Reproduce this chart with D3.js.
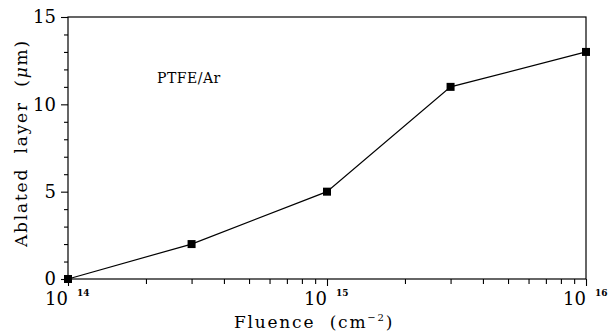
<!DOCTYPE html>
<html>
<head>
<meta charset="utf-8">
<script src="https://cdn.jsdelivr.net/npm/d3@7"></script>
<style>
  html, body { margin: 0; padding: 0; background: #fff; }
  svg { display: block; }
  text { font-family: "DejaVu Serif", "Liberation Serif", serif; fill: #000; white-space: pre; }
</style>
</head>
<body>
<svg id="chart" width="608" height="335"></svg>
<script>
// Data
const fluence = [1e14, 3e14, 1e15, 3e15, 1e16];
const ablated = [0, 2, 5, 11, 13];
const yTicks = [0, 5, 10, 15];
const xMajorTicks = [1e14, 1e15, 1e16];
const xTickExponents = ["14", "15", "16"];
const annotation = "PTFE/Ar";

const W = 608, H = 335;
const margin = { left: 68, right: 22, top: 17, bottom: 56 };
const svg = d3.select("#chart");

const x = d3.scaleLog().domain([1e14, 1e16]).range([margin.left, W - margin.right]);
const y = d3.scaleLinear().domain([0, 15]).range([H - margin.bottom, margin.top]);

// Frame
svg.append("rect")
  .attr("x", x(1e14)).attr("y", y(15))
  .attr("width", x(1e16) - x(1e14)).attr("height", y(0) - y(15))
  .attr("fill", "none").attr("stroke", "#000").attr("stroke-width", 1.2);

// X minor ticks
const xMinor = [];
for (let d = 1e14; d < 1e16; d *= 10) for (let m = 2; m <= 9; m++) xMinor.push(d * m);
const xAxisMinor = d3.axisBottom(x).tickValues(xMinor).tickSize(5).tickFormat("");
const xAxisMajor = d3.axisBottom(x).tickValues(xMajorTicks).tickSize(7).tickFormat("");
[xAxisMinor, xAxisMajor].forEach(ax => {
  const g = svg.append("g").attr("transform", `translate(0,${y(0)})`).call(ax);
  g.select(".domain").remove();
  g.selectAll("line").attr("stroke", "#000").attr("stroke-width", 1.1);
});

// X tick labels: 10^n
const xl = svg.append("g");
xMajorTicks.forEach((v, i) => {
  xl.append("text").attr("x", x(v)).attr("y", 305)
    .attr("text-anchor", "end").attr("font-size", 18).text("10");
  xl.append("text").attr("x", x(v) + 9).attr("y", 296)
    .attr("font-size", 9).attr("font-weight", "bold").text(xTickExponents[i]);
});

// Y ticks
const yMinor = d3.range(0, 16).filter(v => v % 5 !== 0);
const yAxisMinor = d3.axisLeft(y).tickValues(yMinor).tickSize(4).tickFormat("");
const yAxisMajor = d3.axisLeft(y).tickValues(yTicks).tickSize(7).tickFormat(d3.format("d")).tickPadding(5);
[yAxisMinor, yAxisMajor].forEach(ax => {
  const g = svg.append("g").attr("transform", `translate(${x(1e14)},0)`).call(ax);
  g.select(".domain").remove();
  g.selectAll("line").attr("stroke", "#000").attr("stroke-width", 1.1);
  g.selectAll("text").attr("font-size", 18)
    .attr("font-family", '"DejaVu Serif", serif').attr("fill", "#000");
});

// Line
const line = d3.line().x((d, i) => x(fluence[i])).y(d => y(d));
svg.append("path").datum(ablated).attr("d", line)
  .attr("fill", "none").attr("stroke", "#000").attr("stroke-width", 1.2);

// Markers
const s = 8;
svg.append("g").selectAll("rect").data(ablated).join("rect")
  .attr("x", (d, i) => x(fluence[i]) - s / 2).attr("y", d => y(d) - s / 2)
  .attr("width", s).attr("height", s).attr("fill", "#000");

// Annotation
svg.append("text").attr("x", 157).attr("y", 83).attr("font-size", 14)
  .attr("letter-spacing", 0.5).text(annotation);

// X label
const xt = svg.append("text").attr("x", 314).attr("y", 328)
  .attr("text-anchor", "middle").attr("font-size", 17).attr("letter-spacing", 1.8);
xt.append("tspan").text("Fluence  (cm");
xt.append("tspan").attr("font-size", 10).attr("dy", -7).text("−2");
xt.append("tspan").attr("dy", 7).text(")");

// Y label
const yt = svg.append("text").attr("transform", "translate(27,143) rotate(-90)")
  .attr("text-anchor", "middle").attr("font-size", 17).attr("letter-spacing", 1.8);
yt.append("tspan").text("Ablated  layer  (");
yt.append("tspan").attr("font-style", "italic").text("μ");
yt.append("tspan").text("m)");
</script>
</body>
</html>
